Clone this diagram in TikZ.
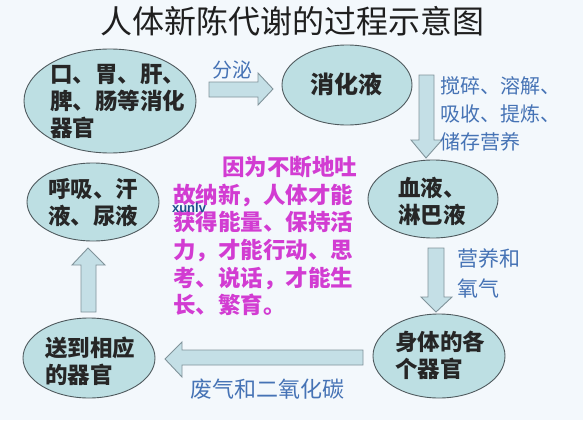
\documentclass[tikz,border=0pt]{standalone}
\usepackage{fontspec}
\setmainfont{Noto Sans CJK SC}
\newfontfamily\wmfont{Liberation Sans}
\usetikzlibrary{shapes.geometric}
\definecolor{bg}{HTML}{F3F8FC}
\definecolor{ellfill}{HTML}{BDDFE3}
\definecolor{elldraw}{HTML}{4F5A5E}
\definecolor{arrfill}{HTML}{C4DFE6}
\definecolor{arrdraw}{HTML}{80939A}
\definecolor{lblblue}{HTML}{4673B5}
\definecolor{magtext}{HTML}{D23CD2}
\definecolor{wmblue}{HTML}{1F4F8F}
\begin{document}
\begin{tikzpicture}[x=1pt,y=-1pt,
  organ/.style={ellipse, draw=elldraw, fill=ellfill, line width=0.9pt, inner sep=0pt},
  bodytext/.style={anchor=west, align=left, inner sep=0pt, text=black!85,
    font=\fontsize{22.5}{27}\selectfont\bfseries},
  bluelabel/.style={text=lblblue, inner sep=0pt, align=left,
    font=\fontsize{20}{28}\selectfont},
  barrow/.style={draw=arrdraw, fill=arrfill, line width=0.9pt, line join=miter}]
\fill[bg] (0,0) rectangle (583,420);
\useasboundingbox (0,0) rectangle (583,420);

% title
\node[inner sep=0pt, text=black!88, font=\fontsize{32}{36}\selectfont] (title) at (292,21) {人体新陈代谢的过程示意图};

% ellipses
\node[organ, minimum width=172pt, minimum height=104pt] (e1) at (110,101) {};
\node[organ, minimum width=130pt, minimum height=80pt] (e2) at (347,85) {};
\node[organ, minimum width=130pt, minimum height=78pt] (e3) at (433,199) {};
\node[organ, minimum width=132pt, minimum height=84pt] (e4) at (439,356) {};
\node[organ, minimum width=132pt, minimum height=80pt] (e5) at (89,358) {};
\node[organ, minimum width=132pt, minimum height=78pt] (e6) at (93,202) {};

% ellipse texts
\node[bodytext] (t1) at (50,101) {口、胃、肝、\\脾、肠等消化\\器官};
\node[bodytext, anchor=center, font=\fontsize{24}{28}\selectfont\bfseries] (t2) at (346,84) {消化液};
\node[bodytext] (t3) at (398,201) {血液、\\淋巴液};
\node[bodytext] (t4) at (395,355) {身体的各\\个器官};
\node[bodytext] (t5) at (45,361) {送到相应\\的器官};
\node[bodytext] (t6) at (48,203) {呼吸、汗\\液、尿液};

% block arrows
\draw[barrow] (209,82) -- (258,82) -- (258,73) -- (273,89) -- (258,105) -- (258,97) -- (209,97) -- cycle;
\draw[barrow] (419,75) -- (434,75) -- (434,140) -- (442,140) -- (426,158) -- (411,140) -- (419,140) -- cycle;
\draw[barrow] (428,248) -- (444,248) -- (444,297) -- (452,297) -- (436,312) -- (421,297) -- (428,297) -- cycle;
\draw[barrow] (363,350) -- (182,350) -- (182,342) -- (165,359) -- (182,377) -- (182,365) -- (363,365) -- cycle;
\draw[barrow] (81,312) -- (81,265) -- (72,265) -- (88,248) -- (105,265) -- (96,265) -- (96,312) -- cycle;

% labels
\node[bluelabel] (l1) at (232,70) {分泌};
\node[bluelabel, anchor=west] (l2) at (440,114) {搅碎、溶解、\\吸收、提炼、\\储存营养};
\node[bluelabel, anchor=west, font=\fontsize{21}{30}\selectfont] (l3) at (457,273) {营养和\\氧气};
\node[bluelabel, font=\fontsize{22}{28}\selectfont] (l4) at (267,389) {废气和二氧化碳};

% central magenta text
\node[anchor=west, align=left, inner sep=0pt, text=magtext,
  font=\fontsize{22.5}{27.6}\selectfont\bfseries] (mid) at (173,236)
  {\hspace*{49pt}因为不断地吐\\故纳新，人体才能\\获得能量、保持活\\力，才能行动、思\\考、说话，才能生\\长、繁育。};

% watermark
\node[inner sep=0pt, text=wmblue, font=\wmfont\bfseries\fontsize{13}{14}\selectfont] (wm) at (189,208) {xunlv};
\end{tikzpicture}
\end{document}
